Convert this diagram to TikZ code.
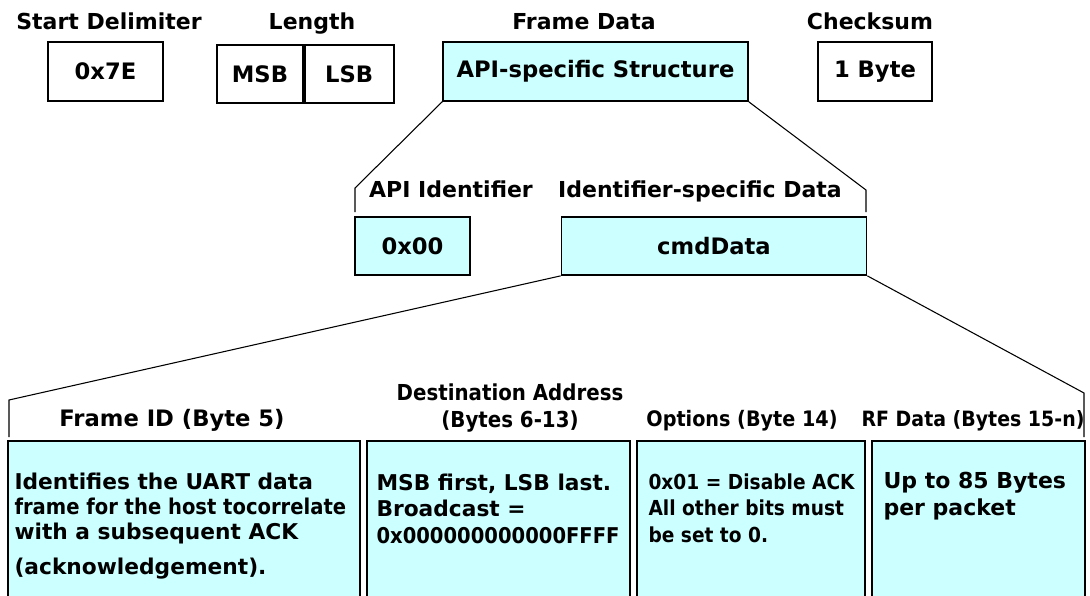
\documentclass[tikz,border=0pt]{standalone}
\usepackage{fontspec}
\setmainfont{DejaVu Sans}
\newfontfamily\narrowfont[FakeStretch=0.9]{DejaVu Sans}

\definecolor{pktcyan}{RGB}{204,255,255}

\tikzset{every picture/.style={line width=0.8pt}}
\tikzset{
  fieldbox/.style={draw=black, line width=1.3pt, inner sep=0pt, font=\bfseries\fontsize{17}{20}\selectfont},
  cyanbox/.style={fieldbox, fill=pktcyan},
  hdr/.style={anchor=base, inner sep=0pt, font=\bfseries\fontsize{16.5}{19}\selectfont},
  narrowhdr/.style={hdr, font=\narrowfont\bfseries\fontsize{16}{19}\selectfont},
  bodytext/.style={anchor=north west, inner sep=0pt, align=left, font=\bfseries\fontsize{16.3}{20}\selectfont},
}
% squeezed line for the long rows in the data boxes
\newcommand\tightline[1]{{\narrowfont\bfseries #1}}

\begin{document}
\begin{tikzpicture}[x=0.75pt,y=0.75pt,yscale=-1,xscale=1]
\useasboundingbox (0,0) rectangle (1090,596);

% Text Node
\node[hdr] (sdtitle) at (109,30) {Start Delimiter};
% Text Node
\node[hdr] (lentitle) at (312,30) {Length};
% Text Node
\node[hdr] (fdtitle) at (584,30) {Frame Data};
% Text Node
\node[hdr] (cstitle) at (870,30) {Checksum};

%Shape: Rectangle
\node[fieldbox, minimum width=86.25pt, minimum height=44.25pt] (sd) at (105.5,71.5) {0x7E};
%Shape: Rectangle
\node[fieldbox, minimum width=64.5pt, minimum height=43.5pt] (msb) at (260,74) {MSB};
\node[fieldbox, minimum width=66.75pt, minimum height=43.5pt, anchor=west] (lsb) at (msb.east) {LSB};
%Shape: Rectangle
\node[cyanbox, minimum width=228.75pt, minimum height=44.25pt] (fd) at (595.5,71.5) {API-specific Structure};
%Shape: Rectangle
\node[fieldbox, minimum width=85.5pt, minimum height=44.25pt] (cs) at (875,71.5) {1 Byte};

%Straight Lines
\coordinate (fdl) at (355,188);
\coordinate (fdlb) at (355,212);
\coordinate (fdr) at (866,190);
\coordinate (fdrb) at (866,212);
\draw (fd.south west) -- (fdl) -- (fdlb);
\draw (fd.south east) -- (fdr) -- (fdrb);

% Text Node
\node[hdr] (apititle) at (451,197) {API Identifier};
% Text Node
\node[hdr] (idtitle) at (700,197) {Identifier-specific Data};

%Shape: Rectangle
\node[cyanbox, minimum width=86.25pt, minimum height=43.5pt] (api) at (412.5,246) {0x00};
%Shape: Rectangle
\node[cyanbox, minimum width=228.75pt, minimum height=43.5pt] (cmd) at (714,246) {cmdData};

%Straight Lines
\coordinate (cmdl) at (9,400);
\coordinate (cmdlb) at (9,437);
\coordinate (cmdr) at (1084,393);
\coordinate (cmdrb) at (1084,437);
\draw (cmd.south west) -- (cmdl) -- (cmdlb);
\draw (cmd.south east) -- (cmdr) -- (cmdrb);

% Text Node
\node[hdr, font=\bfseries\fontsize{17}{19}\selectfont] (fidtitle) at (172,426) {Frame ID (Byte 5)};
% Text Node
\node[narrowhdr, font=\narrowfont\bfseries\fontsize{16.5}{19}\selectfont] (dsttitle) at (510,400) {Destination Address};
\node[narrowhdr, font=\narrowfont\bfseries\fontsize{16.5}{19}\selectfont] (dstbytes) at (510,427) {(Bytes 6-13)};
% Text Node
\node[narrowhdr] (opttitle) at (742,426) {Options (Byte 14)};
% Text Node
\node[narrowhdr, font=\narrowfont\bfseries\fontsize{15.8}{19}\selectfont] (rftitle) at (973,426) {RF Data (Bytes 15-n)};

%Shape: Rectangle
\node[cyanbox, minimum width=264pt, minimum height=119.25pt] (fid) at (184,520.5) {};
\node[cyanbox, minimum width=197.25pt, minimum height=119.25pt] (dst) at (498.5,520.5) {};
\node[cyanbox, minimum width=171pt, minimum height=119.25pt] (opt) at (751,520.5) {};
\node[cyanbox, minimum width=159.75pt, minimum height=119.25pt] (rf) at (978.5,520.5) {};

% Text Node
\node[bodytext, font=\bfseries\fontsize{16.3}{18.75}\selectfont] (fidtext) at (14,472)
  {Identifies the UART data\\\tightline{frame for the host tocorrelate}\\with a subsequent ACK\\[7.5pt](acknowledgement).};
% Text Node
\node[bodytext] (dsttext) at (376,473)
  {MSB first, LSB last.\\Broadcast =\\\tightline{0x000000000000FFFF}};
% Text Node
\node[bodytext, font=\narrowfont\bfseries\fontsize{15.5}{20}\selectfont] (opttext) at (648,473)
  {0x01 = Disable ACK\\All other bits must\\be set to 0.};
% Text Node
\node[bodytext, font=\bfseries\fontsize{16.5}{20}\selectfont] (rftext) at (883,472)
  {Up to 85 Bytes\\per packet};

\end{tikzpicture}
\end{document}
